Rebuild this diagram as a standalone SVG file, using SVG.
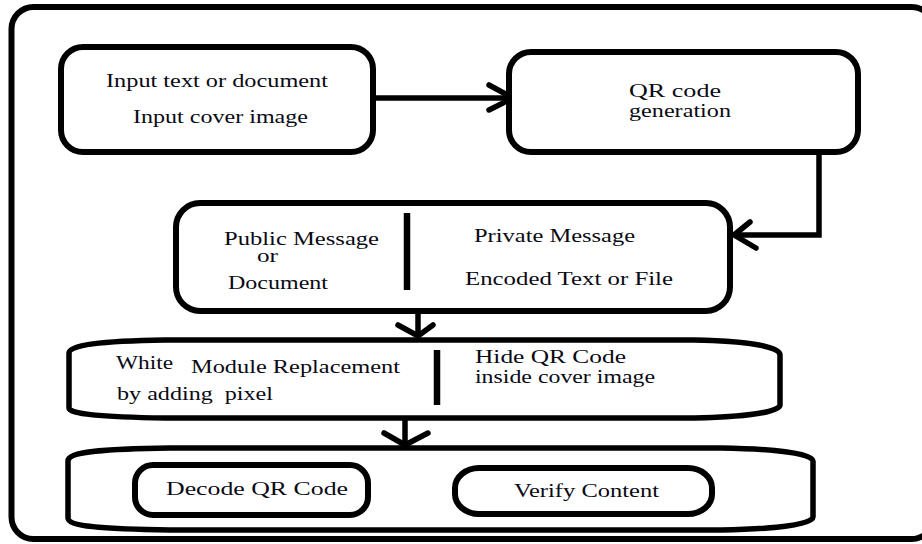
<svg xmlns="http://www.w3.org/2000/svg" width="922" height="544" viewBox="0 0 922 544">
<style>
.box{fill:#fff;stroke:#000;stroke-width:6}
.shape{fill:#fff;stroke:#000;stroke-width:5.5;stroke-linejoin:round}
.div{stroke:#000;stroke-width:6.5}
.ln{fill:none;stroke:#000;stroke-width:5.5;stroke-linejoin:miter}
.hd{fill:none;stroke:#000;stroke-width:5.5;stroke-linecap:round;stroke-linejoin:miter}
text{font-family:"Liberation Serif","Times New Roman",serif;font-size:18px;fill:#0a0a14}
</style>
<rect x="0" y="0" width="922" height="544" fill="#fff"/>
<rect id="frame" x="11.5" y="7" width="922" height="532" rx="22" fill="none" stroke="#000" stroke-width="6"/>

<g id="connectors">
<line class="ln" x1="373" y1="98" x2="513" y2="98"/>
<polyline class="hd" points="489,85 513,98 489,110"/>
<polyline class="ln" points="819,152 819,235 734,235"/>
<polyline class="hd" points="750,222 734,235 756,248"/>
<line class="ln" x1="418" y1="311" x2="418" y2="336"/>
<polyline class="hd" points="398,325 418,336 433,325"/>
<line class="ln" x1="405" y1="418" x2="405" y2="445"/>
<polyline class="hd" points="384,433 405,445 428,433"/>
<line class="ln" x1="368" y1="490" x2="454" y2="490"/>
<polyline class="hd" points="438,477 454,490 438,505"/>
</g>

<g id="input">
<rect class="box" x="61" y="47" width="312" height="105" rx="22"/>
<text x="106" y="87" textLength="222" lengthAdjust="spacingAndGlyphs">Input text or document</text>
<text x="133" y="123" textLength="175" lengthAdjust="spacingAndGlyphs">Input cover image</text>
</g>

<g id="qrgen">
<rect class="box" x="509" y="52" width="349" height="100" rx="22"/>
<text x="629" y="97" textLength="92" lengthAdjust="spacingAndGlyphs">QR code</text>
<text x="629" y="117" textLength="102" lengthAdjust="spacingAndGlyphs">generation</text>
</g>

<g id="messages">
<rect class="box" x="176" y="203" width="554" height="108" rx="24"/>
<line class="div" x1="407" y1="213" x2="407" y2="290"/>
<text x="224" y="245" textLength="155" lengthAdjust="spacingAndGlyphs">Public Message</text>
<text x="257" y="262" textLength="21" lengthAdjust="spacingAndGlyphs">or</text>
<text x="228" y="289" textLength="100" lengthAdjust="spacingAndGlyphs">Document</text>
<text x="474" y="242" textLength="161" lengthAdjust="spacingAndGlyphs">Private Message</text>
<text x="465" y="285" textLength="208" lengthAdjust="spacingAndGlyphs">Encoded Text or File</text>
</g>

<g id="embed">
<path class="shape" d="M69,353 C69,345 100,341 165,340 L694,340 C745,341 780,346 780,355 L780,405 C780,412 745,417 694,418 L165,418 C100,417 69,414 69,408 Z"/>
<line class="div" x1="437" y1="350" x2="437" y2="405"/>
<text x="116" y="369" textLength="57" lengthAdjust="spacingAndGlyphs">White</text>
<text x="191" y="373" textLength="209" lengthAdjust="spacingAndGlyphs">Module Replacement</text>
<text x="117" y="400" textLength="156" lengthAdjust="spacingAndGlyphs" xml:space="preserve">by adding  pixel</text>
<text x="475" y="363" textLength="151" lengthAdjust="spacingAndGlyphs">Hide QR Code</text>
<text x="475" y="383" textLength="180" lengthAdjust="spacingAndGlyphs">inside cover image</text>
</g>

<g id="verify-stage">
<path class="shape" d="M68,461 C68,452 100,449 170,448 L721,448 C780,449 813,454 813,461 L813,517 C813,524 780,529 721,530 L170,530 C100,529 68,526 68,518 Z"/>
</g>

<g id="decode">
<rect class="box" x="135" y="465" width="233" height="50" rx="18"/>
<text x="166" y="495" textLength="182" lengthAdjust="spacingAndGlyphs">Decode QR Code</text>
</g>

<g id="verify">
<rect class="box" x="455" y="468" width="257" height="46" rx="24" ry="20"/>
<text x="514" y="497" textLength="145" lengthAdjust="spacingAndGlyphs">Verify Content</text>
</g>
</svg>
